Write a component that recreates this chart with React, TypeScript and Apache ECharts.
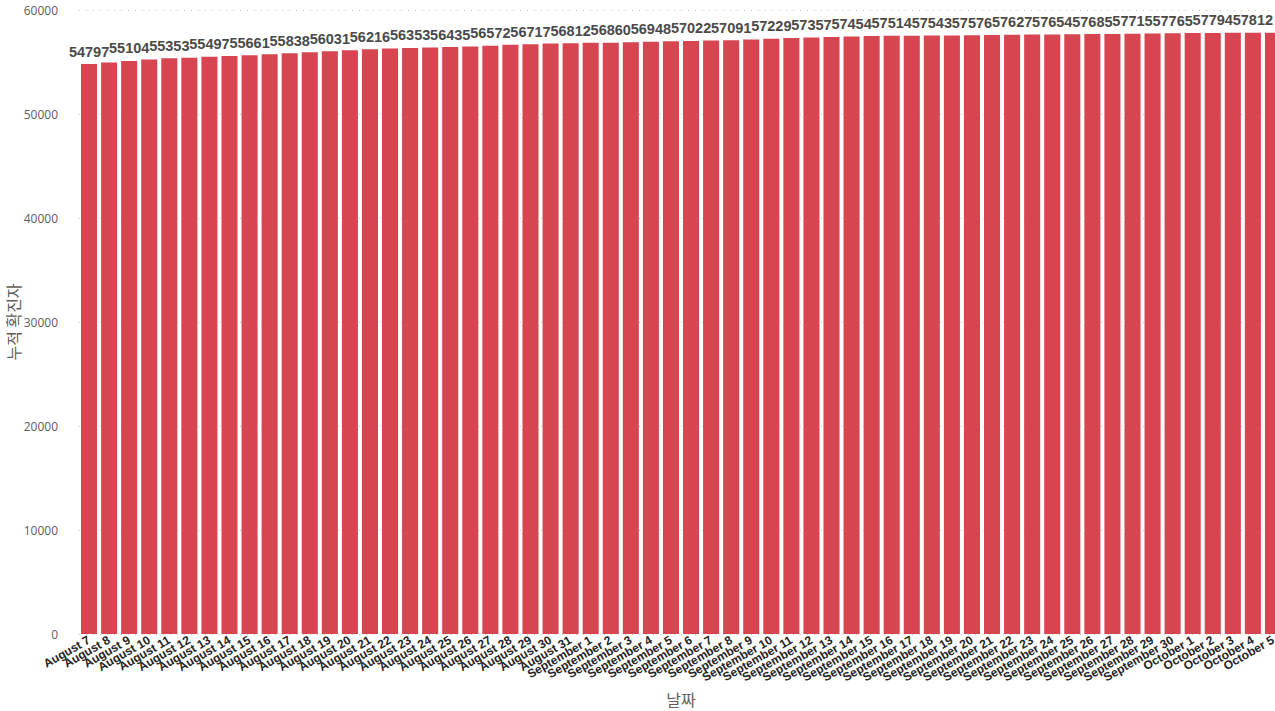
import React, { useEffect, useRef } from 'react';
import * as echarts from 'echarts';

// 날짜 (Aug 7 – Oct 5)
const augustDays = Array.from({ length: 25 }, (_, i) => `August ${i + 7}`);
const septemberDays = Array.from({ length: 30 }, (_, i) => `September ${i + 1}`);
const octoberDays = Array.from({ length: 5 }, (_, i) => `October ${i + 1}`);
const dates = [...augustDays, ...septemberDays, ...octoberDays];

// 누적 확진자 (odd days have no visible label in the source)
const cumulativeCases = [
  54797, 54950, 55104, 55230, 55353, 55420, 55497, 55580, 55661, 55750,
  55838, 55940, 56031, 56120, 56216, 56290, 56353, 56390, 56435, 56500,
  56572, 56650, 56717, 56770, 56812, 56840, 56860, 56900, 56948, 56990,
  57022, 57060, 57091, 57160, 57229, 57300, 57357, 57410, 57454, 57490,
  57514, 57530, 57543, 57560, 57576, 57600, 57627, 57640, 57654, 57670,
  57685, 57700, 57715, 57740, 57765, 57780, 57794, 57803, 57812, 57820,
];

const yTicks = { min: 0, max: 60000, interval: 10000 };

const App: React.FC = () => {
  const chartRef = useRef<HTMLDivElement>(null);

  useEffect(() => {
    if (!chartRef.current) return;
    const chart = echarts.init(chartRef.current, undefined, { renderer: 'svg' });

    const option: any = {
      animation: false,
      grid: { left: 79, right: -8, top: 10, bottom: 77, outerBoundsMode: 'none', containLabel: false },
      xAxis: {
        type: 'category',
        data: dates,
        name: '날짜',
        nameLocation: 'middle',
        nameGap: 57,
        nameMoveOverlap: false,
        nameTextStyle: { color: '#605E5C', fontSize: 16, fontFamily: 'Noto Sans CJK KR' },
        axisLine: { show: false },
        axisTick: { show: false },
        axisLabel: {
          interval: 0,
          rotate: 30,
          margin: 5,
          color: '#252423',
          fontSize: 12,
          fontWeight: 'bold',
          fontFamily: 'Liberation Sans',
        },
      },
      yAxis: {
        type: 'value',
        min: yTicks.min,
        max: yTicks.max,
        interval: yTicks.interval,
        name: '누적 확진자',
        nameLocation: 'middle',
        nameGap: 58,
        nameMoveOverlap: false,
        nameTextStyle: { color: '#605E5C', fontSize: 16, fontFamily: 'Noto Sans CJK KR' },
        axisLabel: {
          color: '#605E5C',
          fontSize: 12,
          margin: 21,
          fontFamily: 'Open Sans',
          formatter: (v: number) => String(v),
        },
        splitLine: { lineStyle: { color: '#C8C6C4', type: [1, 6], width: 1 } },
      },
      series: [
        {
          type: 'bar',
          barCategoryGap: '20%',
          itemStyle: { color: '#D64550' },
          label: {
            show: true,
            position: 'top',
            distance: 5,
            color: '#4A4A4A',
            fontSize: 14.5,
            fontWeight: 'bold',
            fontFamily: 'Liberation Sans',
          },
          data: cumulativeCases.map((v, i) => ({
            value: v,
            label: { show: i % 2 === 0 },
          })),
        },
      ],
    };

    chart.setOption(option);
    return () => chart.dispose();
  }, []);

  return (
    <div
      ref={chartRef}
      style={{ position: 'absolute', left: 0, top: 0, width: 1275, height: 711 }}
    />
  );
};

export default App;
